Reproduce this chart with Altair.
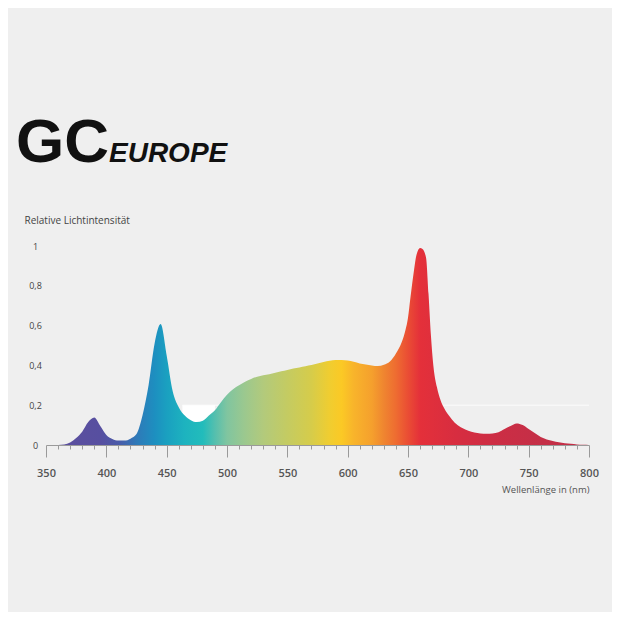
import altair as alt
import pandas as pd

# ---- data ----
wavelength = [350, 355, 360, 365, 370, 375, 380, 385, 390, 395, 400, 405, 410, 415,
              420, 425, 430, 435, 440, 445, 450, 455, 460, 465, 470, 475, 480, 485,
              490, 495, 500, 505, 510, 515, 520, 525, 530, 535, 540, 545, 550, 555,
              560, 565, 570, 575, 580, 585, 590, 595, 600, 605, 610, 615, 620, 625,
              630, 635, 640, 645, 648, 650, 652, 655, 657, 660, 662, 665, 667, 669,
              671, 674, 677, 680, 685, 690, 695, 700, 705, 710, 715, 720, 725, 730,
              735, 740, 745, 750, 755, 760, 765, 770, 775, 780, 785, 790, 795, 800]
intensity = [0.0, 0.0, 0.0, 0.002, 0.012, 0.035, 0.067, 0.115, 0.138, 0.095, 0.05, 0.03, 0.022, 0.022,
             0.032, 0.055, 0.15, 0.3, 0.51, 0.608, 0.45, 0.27, 0.19, 0.148, 0.125, 0.115, 0.122, 0.148,
             0.175, 0.215, 0.252, 0.28, 0.3, 0.318, 0.332, 0.343, 0.35, 0.356, 0.363, 0.37, 0.377, 0.384,
             0.39, 0.396, 0.402, 0.41, 0.417, 0.423, 0.427, 0.427, 0.424, 0.418, 0.41, 0.405, 0.4, 0.397,
             0.403, 0.42, 0.46, 0.52, 0.58, 0.64, 0.74, 0.88, 0.955, 0.99, 0.985, 0.94, 0.76, 0.55,
             0.40, 0.29, 0.225, 0.185, 0.14, 0.105, 0.085, 0.072, 0.063, 0.058, 0.056, 0.058, 0.064, 0.08,
             0.095, 0.108, 0.1, 0.08, 0.06, 0.04, 0.028, 0.02, 0.014, 0.009, 0.006, 0.003, 0.001, 0.0]

stop_nm = [365, 395, 410, 425, 440, 450, 465, 480, 490, 500, 515, 530, 550, 570,
           585, 595, 605, 620, 630, 640, 650, 660, 690, 720, 760]
stop_color = ["#5b4f9e", "#574fa0", "#4a5aa8", "#2f79b8", "#1d8fc0", "#1aa0c0", "#1db3bf",
              "#22bcbb", "#55bfae", "#80c5a0", "#9cc88e", "#b2ca7c", "#c4cb62", "#d6cc4a",
              "#f0cd30", "#fbc925", "#f8b42b", "#f5a02d", "#ef8530", "#ee6c31", "#ea4d34",
              "#e4303a", "#d72d40", "#cd2d44", "#c42f47"]

x_min, x_max = 350, 800
y_ticks = [0, 0.2, 0.4, 0.6, 0.8, 1.0]
x_tick_values = list(range(350, 801, 10))

df = pd.DataFrame({"nm": wavelength, "v": intensity})

gradient = {
    "gradient": "linear",
    "x1": 0, "x2": 1, "y1": 0, "y2": 0,
    "stops": [{"offset": (n - x_min) / (x_max - x_min), "color": c}
              for n, c in zip(stop_nm, stop_color)],
}

x_scale = alt.Scale(domain=[x_min, x_max], nice=False, zero=False)
y_scale = alt.Scale(domain=[0, 1], nice=False)

x_axis = alt.Axis(
    values=x_tick_values,
    labelExpr="datum.value % 50 === 0 ? datum.label : ''",
    labelOverlap=False,
    tickSize={"condition": {"test": "datum.value % 50 === 0", "value": 12}, "value": 4},
    tickColor="#9a9a9a", domainColor="#9a9a9a", grid=False,
    labelFont="Open Sans", labelFontSize=11, labelFontWeight=600, labelColor="#555555",
    labelPadding=10, labelFlush=False,
    title="Wellenlänge in (nm)", titleFont="Open Sans", titleFontSize=9.5,
    titleFontWeight="normal", titleColor="#555555",
    titleX=543, titleY=44, titleAlign="right", titleBaseline="middle",
)
y_axis = alt.Axis(
    values=y_ticks,
    labelExpr="datum.value == 0 ? '0' : datum.value == 1 ? '1' : replace(format(datum.value, '.1f'), '.', ',')",
    labelOverlap=False,
    domain=False, ticks=False, grid=False,
    labelFont="Open Sans", labelFontSize=9, labelColor="#444444",
    labelAlign="center", labelPadding=11, labelBaseline="middle",
    title="Relative Lichtintensität", titleFont="Open Sans", titleFontSize=10,
    titleFontWeight="normal", titleColor="#444444", titleAngle=0,
    titleX=-22, titleY=-26, titleAlign="left", titleBaseline="middle",
)

# faint white patch and gridline seen in the reference at 0,2
patch = alt.Chart(pd.DataFrame({"a": [463], "b": [490], "y0": [0], "y1": [0.2]})).mark_rect(
    color="#ffffff").encode(
    x=alt.X("a:Q", scale=x_scale, axis=x_axis), x2="b:Q",
    y=alt.Y("y0:Q", scale=y_scale, axis=y_axis), y2="y1:Q")
rule = alt.Chart(pd.DataFrame({"a": [463], "b": [800], "y": [0.2]})).mark_rule(
    color="#ffffff", strokeWidth=1, opacity=0.8).encode(
    x=alt.X("a:Q", scale=x_scale, axis=x_axis), x2="b:Q",
    y=alt.Y("y:Q", scale=y_scale, axis=y_axis))

area = alt.Chart(df).mark_area(interpolate="monotone", color=gradient).encode(
    x=alt.X("nm:Q", scale=x_scale, axis=x_axis),
    y=alt.Y("v:Q", scale=y_scale, axis=y_axis),
)

logo_font = "Liberation Sans, Arial, sans-serif"
gc = alt.Chart(pd.DataFrame({"t": ["GC"]})).mark_text(
    font=logo_font, fontWeight="bold",
    fontSize=62, align="left", baseline="alphabetic", color="#111111").encode(
    x=alt.value(-30), y=alt.value(-84), text="t:N")
europe = alt.Chart(pd.DataFrame({"t": ["EUROPE"]})).mark_text(
    font=logo_font, fontWeight="bold",
    fontStyle="italic", fontSize=28, align="left", baseline="alphabetic", color="#111111").encode(
    x=alt.value(63), y=alt.value(-84), text="t:N")

chart = alt.layer(patch, rule, area, gc, europe).properties(
    width=543, height=199,
    autosize=alt.AutoSizeParams(type="none"),
    padding={"left": 38, "top": 238, "right": 23, "bottom": 167},
    background="#efefef",
).configure_view(stroke=None).configure_axis(labelOverlap=False)

chart.save("out.html", embed_options={"renderer": "svg", "actions": False})
